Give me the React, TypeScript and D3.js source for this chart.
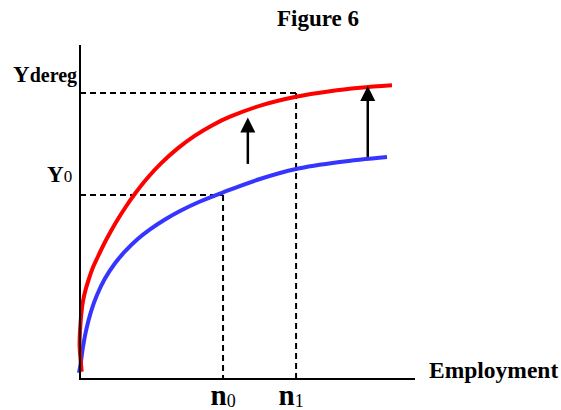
import React from "react";
import * as d3 from "d3";

// Data (abstract units: x = employment 0..100, y = output 0..100)
const redX = [0.51, -0.12, 0.06, 0.39, 0.9, 1.64, 2.69, 3.88, 5.37, 7.16, 9.25, 11.34, 13.73, 16.12, 20.0, 24.18, 29.25, 34.33, 39.4, 44.78, 54.33, 64.48, 74.63, 83.58, 93.13];
const redY = [2.19, 10.18, 15.27, 19.46, 23.35, 26.65, 30.09, 33.44, 36.68, 40.42, 44.31, 47.9, 51.65, 55.09, 60.03, 64.55, 69.13, 72.87, 75.93, 78.53, 82.01, 84.52, 86.17, 87.19, 87.93];
const blueX = [-0.3, 0.15, 0.9, 1.79, 3.28, 5.07, 7.46, 10.45, 13.43, 17.31, 20.9, 25.37, 29.85, 35.82, 42.99, 53.73, 64.48, 77.61, 91.64];
const blueY = [1.8, 4.31, 9.67, 14.4, 20.15, 25.15, 30.06, 34.64, 38.2, 41.98, 44.79, 47.75, 50.3, 53.14, 55.99, 59.88, 62.87, 64.97, 66.47];
const levelY = { Ydereg: 85.6, Y0: 55.1 };
const levelX = { n0: 42.7, n1: 64.5 };
const arrows = [
  { x: 50.1, from: 64.4, to: 78.3 },
  { x: 85.9, from: 66.5, to: 87.7 },
];

const W = 561;
const H = 410;
const FONT = "'Liberation Serif', 'Times New Roman', serif";

export default function App() {
  const x = d3.scaleLinear().domain([0, 100]).range([80, 415]);
  const y = d3.scaleLinear().domain([0, 100]).range([379, 45]);

  const line = d3
    .line<[number, number]>()
    .x((d) => x(d[0]))
    .y((d) => y(d[1]))
    .curve(d3.curveCatmullRom.alpha(0.5));

  const redPts = redX.map((v, i) => [v, redY[i]] as [number, number]);
  const bluePts = blueX.map((v, i) => [v, blueY[i]] as [number, number]);

  const dash = "6,4";
  const head = 15;

  return (
    <svg
      width={W}
      height={H}
      style={{ position: "absolute", left: 0, top: 0, background: "#fff" }}
      fontFamily={FONT}
    >
      <rect width={W} height={H} fill="#fff" />
      {/* dashed guides */}
      <g stroke="#000" strokeWidth={2} strokeDasharray={dash} fill="none">
        <line x1={x(0)} x2={x(levelX.n1)} y1={y(levelY.Ydereg)} y2={y(levelY.Ydereg)} />
        <line x1={x(levelX.n1)} x2={x(levelX.n1)} y1={y(levelY.Ydereg)} y2={y(0)} />
        <line x1={x(0)} x2={x(levelX.n0)} y1={y(levelY.Y0)} y2={y(levelY.Y0)} />
        <line x1={x(levelX.n0)} x2={x(levelX.n0)} y1={y(levelY.Y0)} y2={y(0)} />
      </g>
      {/* curves */}
      <path d={line(bluePts) || ""} fill="none" stroke="#3535ff" strokeWidth={4} />
      <path d={line(redPts) || ""} fill="none" stroke="#ff0000" strokeWidth={4} />
      {/* axes */}
      <g stroke="#000" strokeWidth={2}>
        <line x1={x(0)} x2={x(0)} y1={y(0) + 1} y2={y(100)} />
        <line x1={x(0)} x2={x(100)} y1={y(0)} y2={y(0)} />
      </g>
      {/* arrows */}
      {arrows.map((a, i) => (
        <g key={i}>
          <line
            x1={x(a.x)}
            x2={x(a.x)}
            y1={y(a.from)}
            y2={y(a.to) + head - 1}
            stroke="#000"
            strokeWidth={2.5}
          />
          <path
            d={`M${x(a.x)},${y(a.to)} L${x(a.x) - head / 2},${y(a.to) + head} L${x(a.x) + head / 2},${y(a.to) + head} Z`}
            fill="#000"
          />
        </g>
      ))}
      {/* labels */}
      <text x={318} y={26} fontSize={23} fontWeight="bold" textAnchor="middle">
        Figure 6
      </text>
      <text x={13} y={82} fontWeight="bold">
        <tspan fontSize={23}>Y</tspan>
        <tspan fontSize={20}>dereg</tspan>
      </text>
      <text x={47} y={182} fontWeight="bold">
        <tspan fontSize={23}>Y</tspan>
        <tspan fontSize={17} fontWeight="normal">0</tspan>
      </text>
      <text x={x(levelX.n0) - 12.5} y={405} fontWeight="bold">
        <tspan fontSize={29}>n</tspan>
        <tspan fontSize={18} fontWeight="normal" dy={2}>0</tspan>
      </text>
      <text x={x(levelX.n1) - 17.5} y={405} fontWeight="bold">
        <tspan fontSize={29}>n</tspan>
        <tspan fontSize={18} fontWeight="normal" dy={2}>1</tspan>
      </text>
      <text x={429} y={378} fontSize={23.5} fontWeight="bold">
        Employment
      </text>
    </svg>
  );
}
